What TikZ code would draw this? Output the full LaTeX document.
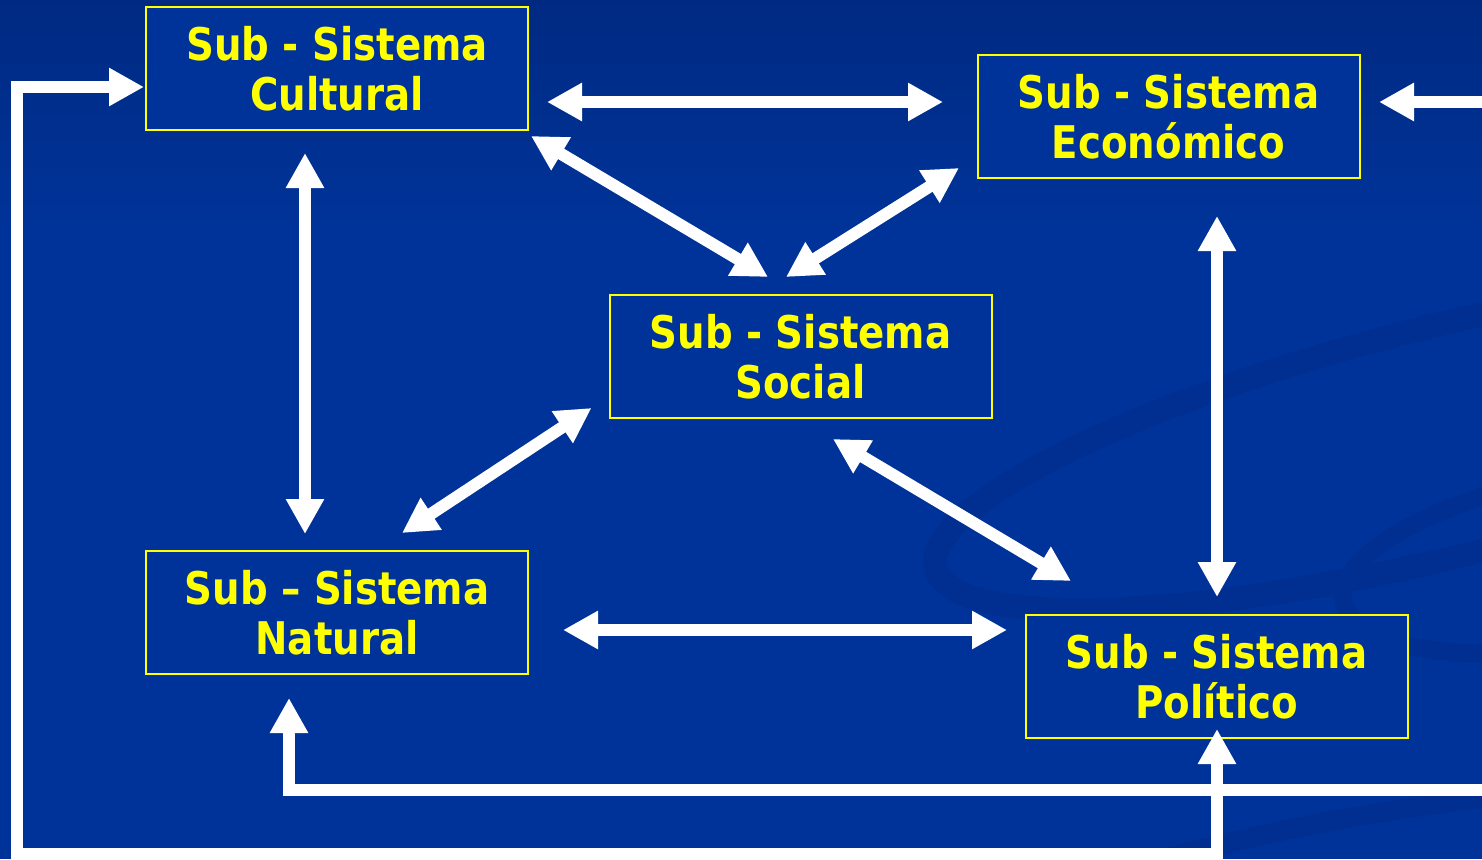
\documentclass[tikz,border=0pt]{standalone}
\usepackage{fontspec}
\newfontfamily\boxfont{DejaVu Sans}[FakeStretch=0.86]
\usetikzlibrary{arrows.meta,calc}
\definecolor{bgblue}{RGB}{0,51,153}
\definecolor{bgtop}{RGB}{0,42,130}
\definecolor{swirl}{RGB}{0,47,145}
\definecolor{ylw}{RGB}{255,255,0}
\begin{document}
\begin{tikzpicture}[x=1pt,y=-1pt,
  sysbox/.style={draw=ylw, line width=2pt, fill=bgblue, minimum width=382pt,
    minimum height=123pt, inner sep=0pt, text=ylw, align=center,
    font=\boxfont\bfseries\fontsize{45}{50}\selectfont},
  link/.style={draw=white, line width=12pt, line join=miter},
  both/.style={link, {Triangle[length=35pt,width=36pt]}-{Triangle[length=35pt,width=36pt]}},
  one/.style={link, -{Triangle[length=35pt,width=36pt]}}
]
\useasboundingbox (0,0) rectangle (1482,859);
% background
\fill[bgblue] (0,0) rectangle (1482,859);
\shade[top color=bgtop, bottom color=bgblue] (0,0) rectangle (1482,230);
\begin{scope}
  \clip (0,0) rectangle (1482,859);
  \draw[swirl, line width=24pt] (1450,440) ellipse[x radius=530, y radius=115, rotate=14];
  \draw[swirl, line width=18pt] (1580,560) ellipse[x radius=240, y radius=85, rotate=10];
  \draw[swirl, line width=20pt] (1300,960) ellipse[x radius=560, y radius=130, rotate=12];
\end{scope}
% boxes
\node[sysbox] (cul) at (337,68.5)    {Sub - Sistema\\Cultural};
\node[sysbox] (eco) at (1168.5,116.5) {Sub - Sistema\\Económico};
\node[sysbox] (soc) at (800.5,356.5)  {Sub - Sistema\\Social};
\node[sysbox] (nat) at (337,612.5)    {Sub – Sistema\\Natural};
\node[sysbox] (pol) at (1216.5,676.5) {Sub - Sistema\\Político};
% free ends and corners
\coordinate (ecoin) at (1482,102);
\coordinate (fbr) at (1217,853.5);
\coordinate (fbl) at (17,853.5);
\coordinate (ftl) at (17,87);
\coordinate (nr) at (1482,790);
\coordinate (nl) at (289,790);
% connectors
\draw[both] ([xshift=18pt,yshift=-33.5pt]cul.east) -- ([xshift=-33.5pt,yshift=14.5pt]eco.west);
\draw[one] (ecoin) -- ([xshift=18.5pt,yshift=14.5pt]eco.east);
\draw[both] ([xshift=2pt,yshift=-5pt]cul.south east) -- ([xshift=-32.5pt,yshift=17pt]soc.north);
\draw[both] ([xshift=-17.5pt,yshift=11pt]eco.south west) -- ([xshift=-14.5pt,yshift=17pt]soc.north);
\draw[both] ([xshift=-32pt,yshift=-22pt]cul.south) -- ([xshift=-32pt,yshift=16pt]nat.north);
\draw[both] ([xshift=48.5pt,yshift=-37pt]eco.south) -- ([xshift=0.5pt,yshift=17pt]pol.north);
\draw[both] ([xshift=65pt,yshift=17pt]nat.north) -- ([xshift=-17pt,yshift=11pt]soc.south west);
\draw[both] ([xshift=32.5pt,yshift=-20pt]soc.south) -- ([xshift=46.5pt,yshift=33pt]pol.north west);
\draw[both] ([xshift=34pt,yshift=-17.5pt]nat.east) -- ([xshift=-17.5pt,yshift=46.5pt]pol.west);
\draw[both] ([xshift=0.5pt,yshift=10pt]pol.south) -- (fbr) -- (fbl) -- (ftl) -- ([xshift=-1pt,yshift=-18.5pt]cul.west);
\draw[one] (nr) -- (nl) -- ([xshift=-48pt,yshift=-23pt]nat.south);
\end{tikzpicture}
\end{document}
